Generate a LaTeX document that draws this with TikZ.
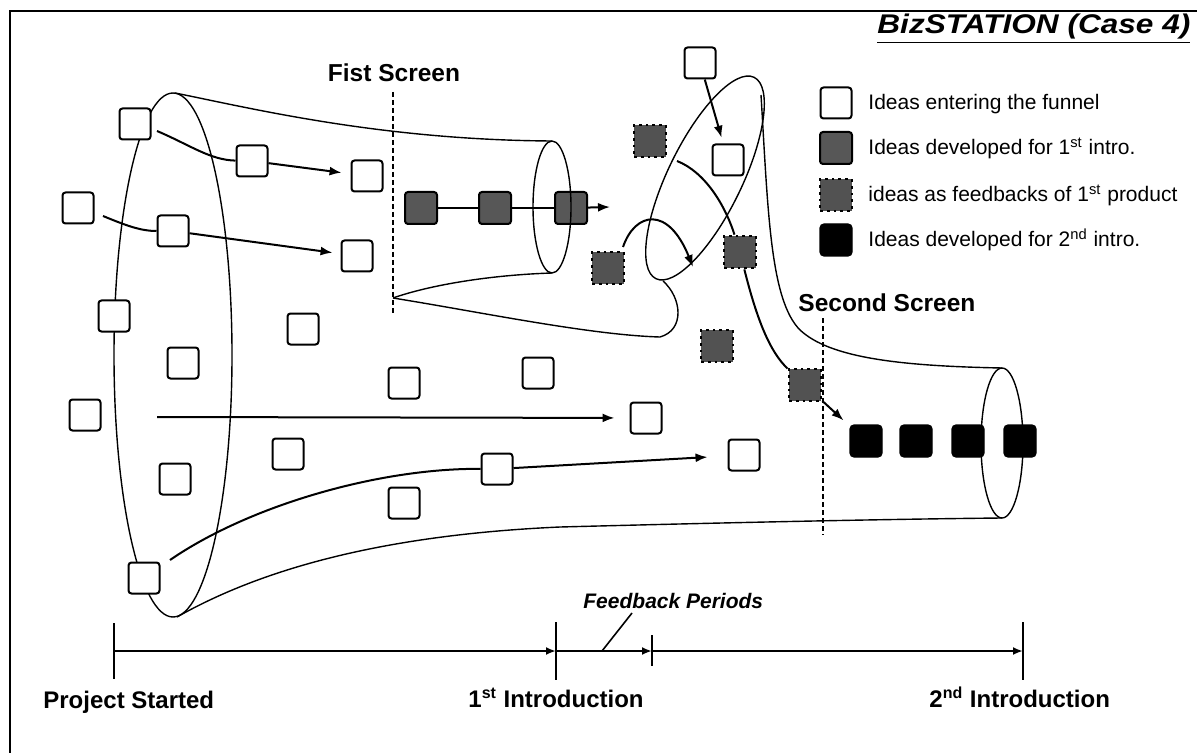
\documentclass[tikz,border=0pt]{standalone}
\usepackage{fontspec}
\setmainfont{Liberation Sans}
\newfontfamily\titlefont[FakeStretch=1.17]{Liberation Sans}
\usetikzlibrary{arrows.meta}
\begin{document}
\begin{tikzpicture}[x=0.5pt,y=-0.5pt,
  idea/.style={draw,line width=1pt,rounded corners=1.5pt,minimum size=15.5pt,inner sep=0pt,fill=white},
  dev/.style={idea,fill=black!66,minimum size=16pt},
  fb/.style={draw=black,fill=black!68,line width=1.4pt,dotted,minimum size=16pt,inner sep=0pt},
  dev2/.style={draw,fill=black,rounded corners=2pt,minimum size=16pt,inner sep=0pt,line width=0.6pt},
  funnel/.style={line width=0.7pt},
  arr/.style={line width=1pt,-{Latex[length=6pt,width=4.5pt]}},
  conn/.style={line width=1pt},
  screen/.style={line width=0.8pt,dash pattern=on 2.5pt off 1.5pt},
  lbl/.style={font=\bfseries\fontsize{12.25}{14}\selectfont,inner sep=0pt},
  leg/.style={font=\fontsize{10.5}{12}\selectfont,inner sep=0pt,anchor=base west},
  tl/.style={line width=1.2pt},
  tla/.style={line width=1.2pt,-{Latex[length=5pt,width=4pt]}},
]
\useasboundingbox (0,0) rectangle (1197,753);

% frame
\draw[line width=0.9pt] (10,770) -- (10,11) -- (1210,11);

% ---- funnel outlines ----
\draw[funnel] (173,355) ellipse [x radius=59, y radius=262];
\draw[funnel] (175,93) .. controls (250,108) and (380,140) .. (552,141);
\draw[funnel] (552,273) .. controls (490,275) and (430,285) .. (393,298);
\draw[funnel] (393,298) .. controls (480,312) and (590,335) .. (660,337)
                        .. controls (685,330) and (682,298) .. (663,281);
\draw[funnel, rotate around={64:(705,178)}] (705,178) ellipse [x radius=112, y radius=37];
\draw[funnel] (761,95) .. controls (768,210) and (770,300) .. (800,330)
                       .. controls (830,358) and (900,366) .. (1002,368);
\draw[funnel] (1002,443) ellipse [x radius=21, y radius=75];
\draw[funnel] (177,617) .. controls (260,570) and (380,535) .. (560,527)
                        .. controls (750,522) and (900,519) .. (1002,518);

% ---- screens ----
\draw[screen] (393,92) -- (393,315);
\draw[screen] (823,318) -- (823,535);
\node[lbl, anchor=base] (fist) at (394,82) {Fist Screen};
\node[lbl, anchor=base west] (second) at (798,312) {Second Screen};

% ---- idea boxes ----
\node[idea] (B1) at (135,124) {};
\node[idea] (B2) at (252,161) {};
\node[idea] (B3) at (367,176) {};
\node[idea] (B4) at (78,208) {};
\node[idea] (B5) at (173,231) {};
\node[idea] (B6) at (357,256) {};
\node[idea] (B7) at (114,316) {};
\node[idea] (B8) at (303,329) {};
\node[idea] (B9) at (183,363) {};
\node[idea] (B10) at (85,415) {};
\node[idea] (B11) at (404,383) {};
\node[idea] (B12) at (538,373) {};
\node[idea] (B13) at (646,418) {};
\node[idea] (B14) at (288,454) {};
\node[idea] (B15) at (175,479) {};
\node[idea] (B16) at (497,469) {};
\node[idea] (B17) at (744,455) {};
\node[idea] (B18) at (404,503) {};
\node[idea] (B19) at (144,578) {};
\node[idea] (W1) at (700,63) {};
\node[idea] (W2) at (728,160) {};

% developed for 1st intro
\node[dev] (D1) at (421,208) {};
\node[dev] (D2) at (495,208) {};
\node[dev] (D3) at (571,208) {};
\draw[funnel] (552,207) ellipse [x radius=19, y radius=66];

% feedback ideas
\node[fb] (F1) at (650,141) {};
\node[fb] (F2) at (608,268) {};
\node[fb] (F3) at (740,252) {};
\node[fb] (F4) at (717,346) {};
\node[fb] (F5) at (805,385) {};

% developed for 2nd intro
\node[dev2] (K1) at (866,441) {};
\node[dev2] (K2) at (916,441) {};
\node[dev2] (K3) at (968,441) {};
\node[dev2] (K4) at (1020,441) {};

% ---- arrows ----
\coordinate (a1s) at (157,131);
\draw[conn] (a1s) .. controls (190,145) and (210,160) .. (B2);
\draw[arr, shorten >=4.5pt] (B2) -- (B3);
\coordinate (a2s) at (103,216);
\draw[conn] (a2s) .. controls (125,225) and (140,231) .. (B5);
\draw[arr, shorten >=4pt] (B5) -- (B6);
\coordinate (a3s) at (157,417);
\draw[arr, shorten >=7.5pt] (a3s) -- (B13);
\coordinate (a4s) at (170,560);
\draw[conn] (a4s) .. controls (250,505) and (380,468) .. (B16);
\draw[arr, shorten >=10pt] (B16) -- (B17);

\draw[conn] (D1) -- (D2) -- (D3);
\coordinate (d3e) at (610,207);
\draw[arr] (D3) -- (d3e);

\draw[arr, shorten >=3pt] (W1) -- (W2);
\coordinate (f2s) at (623,247);
\coordinate (f2e) at (693,267);
\draw[arr] (f2s) .. controls (635,212) and (668,205) .. (f2e);
\coordinate (lcs) at (677,161);
\draw[conn] (lcs) .. controls (705,172) and (725,205) .. (F3);
\draw[conn] (F3) .. controls (757,320) and (770,352) .. (F5);
\draw[arr, shorten >=4pt] (F5) -- (K1);

% ---- title & legend ----
\node[anchor=base west, inner sep=0pt, font=\titlefont\bfseries\itshape\fontsize{13.5}{16}\selectfont] (title) at (877,34) {\underline{BizSTATION (Case 4)}};
\node[idea] (L1) at (836,103) {};
\node[dev] (L2) at (836,148) {};
\node[fb] (L3) at (836,195) {};
\node[dev2] (L4) at (836,240) {};
\node[leg] (T1) at (868,110) {Ideas entering the funnel};
\node[leg] (T2) at (868,155) {Ideas developed for 1\textsuperscript{st} intro.};
\node[leg] (T3) at (868,202) {ideas as feedbacks of 1\textsuperscript{st} product};
\node[leg] (T4) at (868,247) {Ideas developed for 2\textsuperscript{nd} intro.};

% ---- timeline ----
\coordinate (t0) at (114,651);
\coordinate (t1) at (556,651);
\coordinate (t2) at (652,651);
\coordinate (t3) at (1023,651);
\coordinate (t0a) at (114,623); \coordinate (t0b) at (114,679);
\coordinate (t1a) at (556,622); \coordinate (t1b) at (556,680);
\coordinate (t2a) at (652,635); \coordinate (t2b) at (652,666);
\coordinate (t3a) at (1023,622); \coordinate (t3b) at (1023,680);
\draw[tl] (t0a) -- (t0b);
\draw[tl] (t1a) -- (t1b);
\draw[tl] (t2a) -- (t2b);
\draw[tl] (t3a) -- (t3b);
\draw[tla] (t0) -- (t1);
\draw[tla] (t1) -- (t2);
\draw[tla] (t2) -- (t3);
\node[lbl, anchor=base west, font=\bfseries\fontsize{12}{14}\selectfont] (ps) at (43,708) {Project Started};
\node[lbl, anchor=base west, font=\bfseries\fontsize{12}{14}\selectfont] (i1) at (468,707) {1\textsuperscript{st} Introduction};
\node[lbl, anchor=base west, font=\bfseries\fontsize{12}{14}\selectfont] (i2) at (929,707) {2\textsuperscript{nd} Introduction};
\node[anchor=base west, inner sep=0pt, font=\bfseries\itshape\fontsize{10.5}{12}\selectfont] (fp) at (583,608) {Feedback Periods};
\coordinate (fpa) at (632,613);
\coordinate (fpb) at (602,651);
\draw[line width=0.8pt] (fpa) -- (fpb);
\end{tikzpicture}
\end{document}
